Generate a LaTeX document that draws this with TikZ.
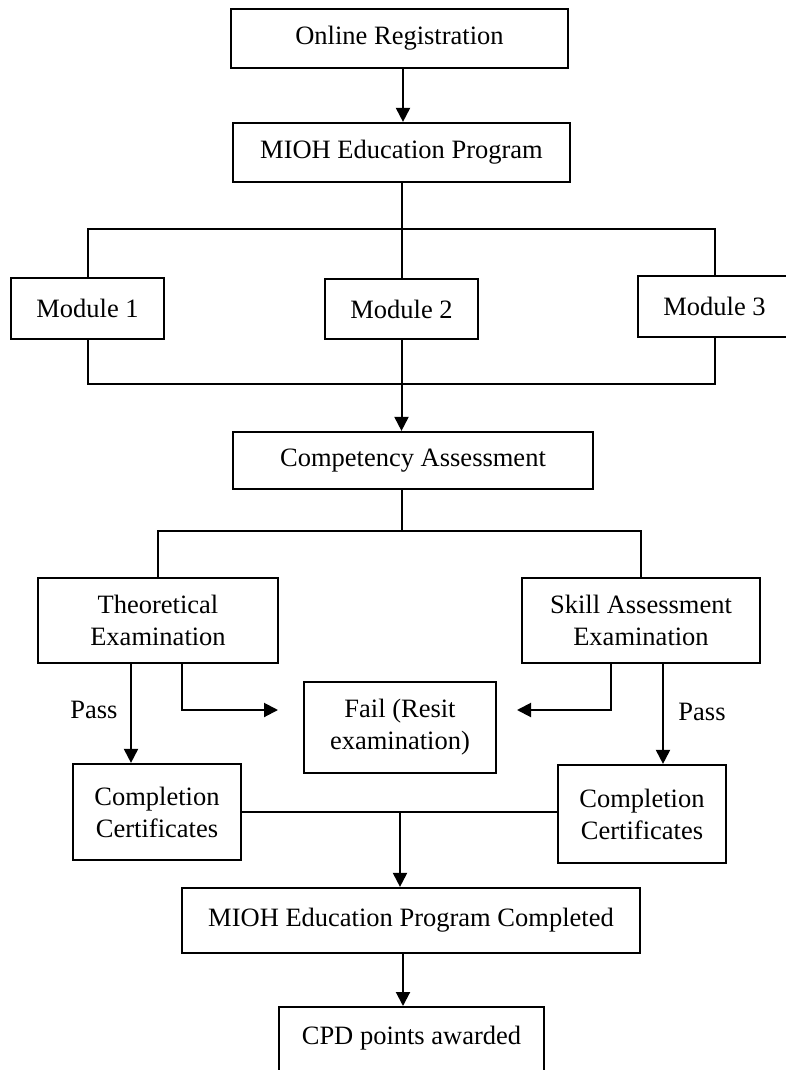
\documentclass[tikz,border=0pt]{standalone}
\usepackage{fontspec}
\setmainfont{Liberation Serif}
\usetikzlibrary{arrows.meta}
\begin{document}
\begin{tikzpicture}[x=1pt,y=-1pt,
  box/.style={draw, line width=2.2pt, rectangle, align=center, inner sep=0pt,
    font=\fontsize{26.5}{32}\selectfont},
  conn/.style={line width=2pt},
  arr/.style={line width=2pt, -{Triangle[length=14pt,width=14pt]}},
  lab/.style={font=\fontsize{26.5}{32}\selectfont, inner sep=0pt}]
\useasboundingbox (0,0) rectangle (786,1070);
\clip (0,0) rectangle (786,1070);
% boxes
\node[box, minimum width=337, minimum height=59] (reg) at (399.5,38.5) {Online Registration};
\node[box, minimum width=337, minimum height=59] (prog) at (401.5,152.5) {MIOH Education Program};
\node[box, minimum width=153, minimum height=61] (m1) at (87.5,308.5) {Module 1};
\node[box, minimum width=153, minimum height=60] (m2) at (401.5,309) {Module 2};
\node[box, minimum width=153, minimum height=61] (m3) at (714.5,306.5) {Module 3};
\node[box, minimum width=360, minimum height=57] (comp) at (413,460.5) {Competency Assessment};
\node[box, minimum width=240, minimum height=85] (theo) at (158,620.5) {Theoretical\\Examination};
\node[box, minimum width=238, minimum height=85] (skill) at (641,620.5) {Skill Assessment\\Examination};
\node[box, minimum width=192, minimum height=91] (fail) at (400,727.5) {Fail (Resit\\examination)};
\node[box, minimum width=168, minimum height=96] (cert1) at (157,812) {Completion\\Certificates};
\node[box, minimum width=168, minimum height=98] (cert2) at (642,814) {Completion\\Certificates};
\node[box, minimum width=458, minimum height=65] (done) at (411,920.5) {MIOH Education Program Completed};
\node[box, minimum width=265, anchor=north, text height=37pt, text depth=45pt] (cpd) at (411.5,1006) {CPD points awarded};
% labels
\node[lab] (pass1) at (94,710) {Pass};
\node[lab] (pass2) at (702,712) {Pass};
% helper coordinates
\coordinate (b1) at (0,229);
\coordinate (b2) at (0,384);
\coordinate (b3) at (0,531);
\coordinate (p1) at (131,0);
\coordinate (p2) at (663,0);
\coordinate (f1) at (182,710);
\coordinate (fa) at (278,710);
\coordinate (f2) at (611,710);
\coordinate (fb) at (517,710);
\coordinate (a4) at (400,812);
\coordinate (a5) at (403,0);
% connectors
\draw[arr] (reg.south -| a5) -- (prog.north -| a5);
\draw[conn] (prog.south) -- (m2.north);
\draw[conn] (m1.north) -- (m1.north |- b1) -| (m3.north);
\draw[conn] (m1.south) -- (m1.south |- b2) -| (m3.south);
\draw[arr] (m2.south) -- (m2.south |- comp.north);
\draw[conn] (m2.south |- comp.south) -- (m2.south |- b3);
\draw[conn] (theo.north) -- (theo.north |- b3) -| (skill.north);
\draw[arr] (theo.south -| p1) -- (cert1.north -| p1);
\draw[arr] (theo.south -| f1) -- (f1) -- (fa);
\draw[arr] (skill.south -| f2) -- (f2) -- (fb);
\draw[arr] (skill.south -| p2) -- (cert2.north -| p2);
\draw[conn] (cert1.east) -- (cert1.east -| cert2.west);
\draw[arr] (a4) -- (a4 |- done.north);
\draw[arr] (done.south -| a5) -- (cpd.north -| a5);
\end{tikzpicture}
\end{document}
